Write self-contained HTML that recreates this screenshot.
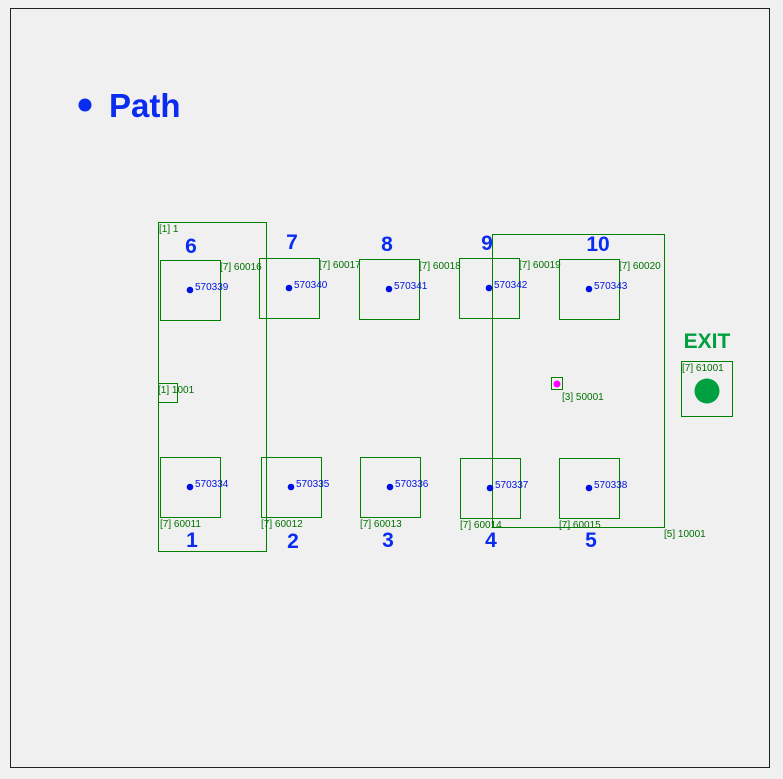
<!DOCTYPE html>
<html><head><style>body{margin:0;background:#fff}svg{display:block}</style></head><body>
<svg width="783" height="779" xmlns="http://www.w3.org/2000/svg" font-family="Liberation Sans, sans-serif">
<rect x="0" y="0" width="783" height="779" fill="#f0f0f0"/>
<rect x="10.5" y="8.5" width="759" height="759" fill="#f0f0f0" stroke="#222" stroke-width="1"/>
<circle cx="85" cy="105" r="6.5" fill="#0a2cf0"/>
<text x="109" y="117" font-size="33" font-weight="bold" fill="#0a2cf0">Path</text>
<g fill="none" stroke="#008000" stroke-width="1">
<rect x="158.5" y="222.5" width="108" height="329"/>
<rect x="492.5" y="234.5" width="172" height="293"/>
<rect x="160.5" y="260.5" width="60" height="60"/>
<rect x="259.5" y="258.5" width="60" height="60"/>
<rect x="359.5" y="259.5" width="60" height="60"/>
<rect x="459.5" y="258.5" width="60" height="60"/>
<rect x="559.5" y="259.5" width="60" height="60"/>
<rect x="160.5" y="457.5" width="60" height="60"/>
<rect x="261.5" y="457.5" width="60" height="60"/>
<rect x="360.5" y="457.5" width="60" height="60"/>
<rect x="460.5" y="458.5" width="60" height="60"/>
<rect x="559.5" y="458.5" width="60" height="60"/>
<rect x="158.5" y="383.5" width="19" height="19"/>
<rect x="551.5" y="377.5" width="11" height="12"/>
<rect x="681.5" y="361.5" width="51" height="55"/>
</g>
<circle cx="707" cy="391" r="12.5" fill="#00a040"/>
<circle cx="557" cy="384" r="3.5" fill="#ff00ff"/>
<g fill="#0010e0">
<circle cx="190" cy="290" r="3.3"/><circle cx="289" cy="288" r="3.3"/><circle cx="389" cy="289" r="3.3"/><circle cx="489" cy="288" r="3.3"/><circle cx="589" cy="289" r="3.3"/>
<circle cx="190" cy="487" r="3.3"/><circle cx="291" cy="487" r="3.3"/><circle cx="390" cy="487" r="3.3"/><circle cx="490" cy="488" r="3.3"/><circle cx="589" cy="488" r="3.3"/>
</g>
<g font-size="10" fill="#0010e0">
<text x="195" y="290">570339</text><text x="294" y="288">570340</text><text x="394" y="289">570341</text><text x="494" y="288">570342</text><text x="594" y="289">570343</text>
<text x="195" y="487">570334</text><text x="296" y="487">570335</text><text x="395" y="487">570336</text><text x="495" y="488">570337</text><text x="594" y="488">570338</text>
</g>
<g font-size="10" fill="#007000">
<text x="159" y="232">[1] 1</text>
<text x="220" y="270">[7] 60016</text><text x="319" y="268">[7] 60017</text><text x="419" y="269">[7] 60018</text><text x="519" y="268">[7] 60019</text><text x="619" y="269">[7] 60020</text>
<text x="160" y="527">[7] 60011</text><text x="261" y="527">[7] 60012</text><text x="360" y="527">[7] 60013</text><text x="460" y="528">[7] 60014</text><text x="559" y="528">[7] 60015</text>
<text x="158" y="393">[1] 1001</text>
<text x="562" y="400">[3] 50001</text>
<text x="664" y="537">[5] 10001</text>
<text x="682" y="371">[7] 61001</text>
</g>
<g font-size="21" font-weight="bold" fill="#0a2cf0" text-anchor="middle">
<text x="191" y="253">6</text><text x="292" y="249">7</text><text x="387" y="251">8</text><text x="487" y="250">9</text><text x="598" y="251">10</text>
<text x="192" y="547">1</text><text x="293" y="548">2</text><text x="388" y="547">3</text><text x="491" y="547">4</text><text x="591" y="547">5</text>
</g>
<text x="707" y="348" font-size="21" font-weight="bold" fill="#00a040" text-anchor="middle">EXIT</text>
</svg>
</body></html>
